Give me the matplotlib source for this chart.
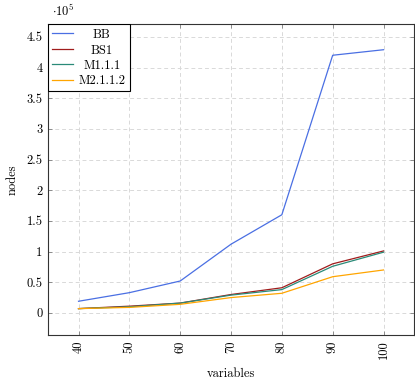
import matplotlib
matplotlib.use('Agg')
from matplotlib import pyplot as plt
from matplotlib.patches import Rectangle

plt.rcParams['font.family'] = 'serif'
plt.rcParams['font.serif'] = ['cmr10']
plt.rcParams['mathtext.fontset'] = 'cm'
plt.rcParams['axes.formatter.use_mathtext'] = True

variables = [40, 50, 60, 70, 80, 90, 100]
bb = [0.19, 0.33, 0.52, 1.12, 1.60, 4.20, 4.29]
bs1 = [0.07, 0.11, 0.16, 0.30, 0.41, 0.80, 1.01]
m111 = [0.07, 0.10, 0.16, 0.29, 0.38, 0.76, 0.99]
m2112 = [0.07, 0.09, 0.14, 0.25, 0.32, 0.59, 0.70]
series_names = ['BB', 'BS1', 'M1.1.1', 'M2.1.1.2']
series_colors = ['#4a6fe3', '#a01c1c', '#2a8a78', '#ffa500']
y_ticks = [0, 0.5, 1, 1.5, 2, 2.5, 3, 3.5, 4, 4.5]
y_tick_labels = ['0', '0.5', '1', '1.5', '2', '2.5', '3', '3.5', '4', '4.5']

fig = plt.figure(figsize=(4.15, 3.84), dpi=100)
ax = fig.add_axes([0.1157, 0.1276, 0.8819, 0.81])

for vals, name, col in zip([bb, bs1, m111, m2112], series_names, series_colors):
    ax.plot(variables, vals, color=col, lw=0.9, label=name)

ax.set_xlim(34, 106)
ax.set_ylim(-0.36, 4.71)
ax.set_xticks(variables)
ax.set_xticklabels([str(v) for v in variables], rotation=90)
ax.set_yticks(y_ticks)
ax.set_yticklabels(y_tick_labels)
ax.tick_params(direction='in', length=3, width=0.6, color='#808080',
               labelsize=9, top=True, right=True, pad=4)
ax.grid(True, linestyle=(0, (4, 3)), color='#d9d9d9', lw=0.7)
for s in ax.spines.values():
    s.set_color('#333333')
    s.set_linewidth(0.8)

ax.set_xlabel('variables', fontsize=9, labelpad=6)
ax.set_ylabel('nodes', fontsize=9, labelpad=6)
ax.text(0.01, 1.015, r'$\cdot 10^5$', transform=ax.transAxes, fontsize=9,
        ha='left', va='bottom')

# legend box drawn by hand so the labels can be centred like pgfplots
box_w, box_h = 0.2234, 0.2154
ax.add_patch(Rectangle((0, 1 - box_h), box_w, box_h, transform=ax.transAxes,
                       facecolor='white', edgecolor='black', lw=0.8, zorder=5))
for i, (name, col) in enumerate(zip(series_names, series_colors)):
    yy = 1 - 0.0305 - 0.0498 * i
    ax.plot([0.011, 0.068], [yy, yy], color=col, lw=0.9, transform=ax.transAxes,
            clip_on=False, zorder=6)
    ax.text(0.147, yy, name, transform=ax.transAxes, fontsize=9,
            ha='center', va='center_baseline', zorder=6)

fig.savefig('out.png', dpi=100)
